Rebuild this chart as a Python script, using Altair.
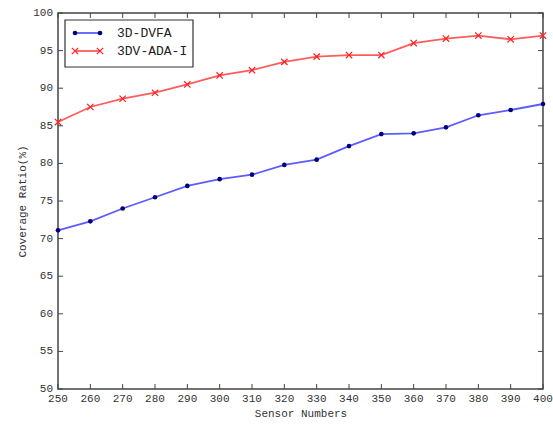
import altair as alt
import pandas as pd

# Sensor counts on the x axis
sensors = [250, 260, 270, 280, 290, 300, 310, 320, 330, 340, 350, 360, 370, 380, 390, 400]

# Coverage ratio (%) for each method
dvfa = [71.1, 72.3, 74.0, 75.5, 77.0, 77.9, 78.5, 79.8, 80.5, 82.3, 83.9, 84.0, 84.8, 86.4, 87.1, 87.9]
ada = [85.5, 87.5, 88.6, 89.4, 90.5, 91.7, 92.4, 93.5, 94.2, 94.4, 94.4, 96.0, 96.6, 97.0, 96.5, 97.0]

series_names = ["3D-DVFA", "3DV-ADA-I"]
line_colors = ["#5c5cff", "#ff5c5c"]
marker_colors = ["#000080", "#ff2020"]

x_ticks = list(range(250, 401, 10))
y_ticks = list(range(50, 101, 5))

FONT = "Liberation Mono"
W, H = 485, 376
X_SHAPE = "M-1,-1L1,1M-1,1L1,-1"
TEXT = "#333"

df_dvfa = pd.DataFrame({"n": sensors, "ratio": dvfa})
df_ada = pd.DataFrame({"n": sensors, "ratio": ada})

xs = alt.Scale(domain=[250, 400], nice=False, zero=False)
ys = alt.Scale(domain=[50, 100], nice=False, zero=False)

# Axes carry only the titles; tick labels are drawn as text marks below
x_axis = alt.Axis(title="Sensor Numbers", labels=False, ticks=False, domain=False, grid=False,
                  titlePadding=18)
y_axis = alt.Axis(title="Coverage Ratio(%)", labels=False, ticks=False, domain=False, grid=False,
                  titlePadding=31)

line_dvfa = alt.Chart(df_dvfa).mark_line(color=line_colors[0], strokeWidth=1.8).encode(
    x=alt.X("n:Q", scale=xs, axis=x_axis), y=alt.Y("ratio:Q", scale=ys, axis=y_axis))
pts_dvfa = alt.Chart(df_dvfa).mark_point(shape="circle", filled=True, color=marker_colors[0],
                                         size=22, opacity=1).encode(x="n:Q", y="ratio:Q")
line_ada = alt.Chart(df_ada).mark_line(color=line_colors[1], strokeWidth=1.8).encode(x="n:Q", y="ratio:Q")
pts_ada = alt.Chart(df_ada).mark_point(shape=X_SHAPE, filled=False, color=marker_colors[1],
                                       size=40, strokeWidth=1.2, opacity=1).encode(x="n:Q", y="ratio:Q")

# Inward tick marks on all four sides, with their labels
tick_color = "#444"
xt = pd.DataFrame({"n": x_ticks})
yt = pd.DataFrame({"ratio": y_ticks})
ticks_bottom = alt.Chart(xt).mark_rule(color=tick_color, strokeWidth=1).encode(
    x="n:Q", y=alt.value(H), y2=alt.value(H - 5))
ticks_top = alt.Chart(xt).mark_rule(color=tick_color, strokeWidth=1).encode(
    x="n:Q", y=alt.value(0), y2=alt.value(5))
ticks_left = alt.Chart(yt).mark_rule(color=tick_color, strokeWidth=1).encode(
    y="ratio:Q", x=alt.value(0), x2=alt.value(5))
ticks_right = alt.Chart(yt).mark_rule(color=tick_color, strokeWidth=1).encode(
    y="ratio:Q", x=alt.value(W), x2=alt.value(W - 5))
labels_x = alt.Chart(xt).mark_text(font=FONT, fontSize=11, color=TEXT, align="center",
                                   baseline="middle").encode(
    x="n:Q", y=alt.value(H + 10), text=alt.Text("n:Q", format="d"))
labels_y = alt.Chart(yt).mark_text(font=FONT, fontSize=11, color=TEXT, align="right",
                                   baseline="middle").encode(
    y="ratio:Q", x=alt.value(-5), text=alt.Text("ratio:Q", format="d"))

# Legend box in the upper-left corner
legend_box = alt.Chart(pd.DataFrame({"k": [0]})).mark_rect(
    fill="white", stroke="#333", strokeWidth=1.2).encode(
    x=alt.value(7), x2=alt.value(135), y=alt.value(7), y2=alt.value(54))

leg_rows = []
for i, name in enumerate(series_names):
    leg_rows.append(alt.Chart(pd.DataFrame({"k": [0]})).mark_rule(
        color=line_colors[i], strokeWidth=1.8).encode(
        x=alt.value(17), x2=alt.value(42), y=alt.value(20 + 18 * i)))
    pts = pd.DataFrame({"px": [17, 42]})
    if i == 0:
        leg_rows.append(alt.Chart(pts).mark_point(shape="circle", filled=True, color=marker_colors[0],
                                                  size=22, opacity=1).encode(
            x=alt.X("px:Q", scale=None), y=alt.value(20 + 18 * i)))
    else:
        leg_rows.append(alt.Chart(pts).mark_point(shape=X_SHAPE, filled=False, color=marker_colors[1],
                                                  size=40, strokeWidth=1.2, opacity=1).encode(
            x=alt.X("px:Q", scale=None), y=alt.value(20 + 18 * i)))
    leg_rows.append(alt.Chart(pd.DataFrame({"t": [name]})).mark_text(
        font=FONT, fontSize=13, color="#222", align="left", baseline="middle").encode(
        text="t:N", x=alt.value(59), y=alt.value(20 + 18 * i)))

chart = alt.layer(
    line_dvfa, pts_dvfa, line_ada, pts_ada,
    ticks_bottom, ticks_top, ticks_left, ticks_right, labels_x, labels_y,
    legend_box, *leg_rows
).properties(
    width=W, height=H,
    autosize=alt.AutoSizeParams(type="none"),
    padding={"left": 58, "top": 13, "right": 10, "bottom": 36},
    background="white",
).configure_view(
    stroke="#444", strokeWidth=1.5
).configure_axis(
    titleFont=FONT, titleFontSize=11, titleFontWeight="normal", titleColor=TEXT,
)

chart.save("out.html", embed_options={"renderer": "svg", "actions": False})
